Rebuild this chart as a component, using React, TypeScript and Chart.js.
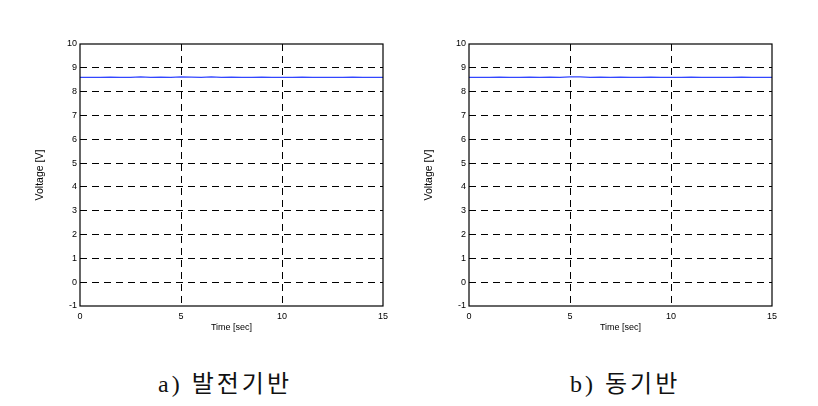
import React, { useEffect, useRef } from "react";
import { Chart, registerables } from "chart.js";

Chart.register(...registerables);

// ---- data ----
const timeSec = [0, 0.5, 1, 1.5, 2, 2.5, 3, 3.5, 4, 4.5, 5, 5.5, 6, 6.5, 7, 7.5, 8, 8.5, 9, 9.5, 10, 10.5, 11, 11.5, 12, 12.5, 13, 13.5, 14, 14.5, 15];
const voltageA = [8.6, 8.6, 8.6, 8.61, 8.6, 8.6, 8.62, 8.6, 8.61, 8.6, 8.62, 8.61, 8.6, 8.62, 8.6, 8.61, 8.6, 8.6, 8.61, 8.6, 8.6, 8.6, 8.61, 8.6, 8.6, 8.6, 8.6, 8.61, 8.6, 8.6, 8.6];
const voltageB = [8.6, 8.6, 8.6, 8.61, 8.6, 8.6, 8.61, 8.6, 8.61, 8.6, 8.62, 8.62, 8.6, 8.61, 8.6, 8.61, 8.6, 8.6, 8.61, 8.6, 8.6, 8.6, 8.61, 8.6, 8.6, 8.6, 8.6, 8.61, 8.6, 8.6, 8.6];
const xTicks = [0, 5, 10, 15];
const yTicks = [-1, 0, 1, 2, 3, 4, 5, 6, 7, 8, 9, 10];
const xTitle = "Time [sec]";
const yTitle = "Voltage [V]";
const captions = ["a) 발전기반", "b) 동기반"];

const tickFont = { family: "'Liberation Sans', Arial, sans-serif", size: 9 };
const yTitleFont = { family: "'Liberation Sans', Arial, sans-serif", size: 10.5 };

const boxPlugin = {
  id: "box",
  afterDraw(chart: any) {
    const { ctx, chartArea: a } = chart;
    ctx.save();
    ctx.strokeStyle = "#000";
    ctx.lineWidth = 1.2;
    ctx.setLineDash([]);
    ctx.strokeRect(a.left, a.top, a.right - a.left, a.bottom - a.top);
    ctx.restore();
  },
};

function Plot({ values, left }: { values: number[]; left: number }) {
  const ref = useRef<HTMLCanvasElement | null>(null);
  useEffect(() => {
    if (!ref.current) return;
    const data = timeSec.map((t, i) => ({ x: t, y: values[i] }));
    const chart = new Chart(ref.current, {
      type: "line",
      data: {
        datasets: [
          {
            data,
            borderColor: "rgb(50,70,255)",
            borderWidth: 1.2,
            pointRadius: 0,
            tension: 0,
          },
        ],
      },
      plugins: [boxPlugin],
      options: {
        animation: false,
        responsive: false,
        layout: { padding: { top: 44, right: 18, left: 0, bottom: 0 } },
        plugins: { legend: { display: false }, tooltip: { enabled: false } },
        scales: {
          x: {
            type: "linear",
            min: 0,
            max: 15,
            afterFit: (axis: any) => {
              axis.height = 34;
            },
            afterBuildTicks: (axis: any) => {
              axis.ticks = xTicks.map((v) => ({ value: v }));
            },
            ticks: { font: tickFont, color: "#000", padding: 5, maxRotation: 0 },
            grid: {
              drawTicks: false,
              color: (c: any) =>
                c.tick && (c.tick.value === 0 || c.tick.value === 15) ? "rgba(0,0,0,0)" : "#000",
              lineWidth: 1,
            },
            border: { display: false, dash: [7, 5] },
            title: { display: true, text: xTitle, font: tickFont, color: "#000", padding: { top: 0, bottom: 7.5 } },
          },
          y: {
            type: "linear",
            min: -1,
            max: 10,
            afterFit: (axis: any) => {
              axis.width = 80;
            },
            afterBuildTicks: (axis: any) => {
              axis.ticks = yTicks.map((v) => ({ value: v }));
            },
            ticks: { font: tickFont, color: "#000", padding: 3 },
            grid: {
              drawTicks: false,
              color: (c: any) =>
                c.tick && (c.tick.value === -1 || c.tick.value === 10) ? "rgba(0,0,0,0)" : "#000",
              lineWidth: 1,
            },
            border: { display: false, dash: [7, 5] },
            title: { display: true, text: yTitle, font: yTitleFont, color: "#000", padding: { top: 34, bottom: 0 } },
          },
        },
      },
    } as any);
    return () => chart.destroy();
  }, [values]);
  return (
    <canvas
      ref={ref}
      width={401}
      height={340}
      style={{ position: "absolute", left, top: 0, width: 401, height: 340 }}
    />
  );
}

export default function App() {
  const capStyle: React.CSSProperties = {
    position: "absolute",
    top: 369,
    whiteSpace: "nowrap",
    fontFamily: "'Liberation Serif', 'DejaVu Serif', 'Noto Sans CJK KR', serif",
    fontSize: 24,
    letterSpacing: 3,
    color: "#111",
    lineHeight: "30px",
  };
  return (
    <div style={{ position: "absolute", left: 0, top: 0, width: 818, height: 406, background: "#fff" }}>
      <Plot values={voltageA} left={0} />
      <Plot values={voltageB} left={389} />
      <div style={{ ...capStyle, left: 158 }}>{captions[0]}</div>
      <div style={{ ...capStyle, left: 570 }}>{captions[1]}</div>
    </div>
  );
}
